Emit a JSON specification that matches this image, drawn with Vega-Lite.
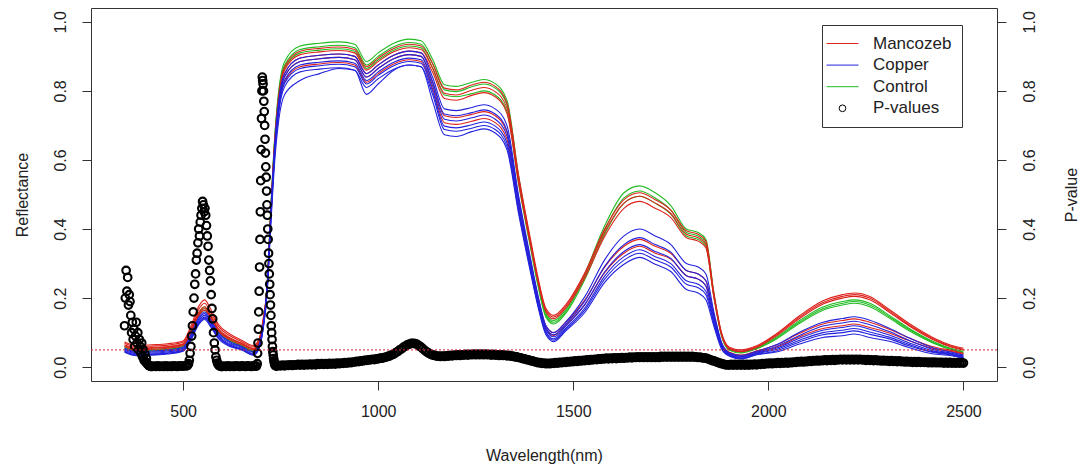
{
"$schema": "https://vega.github.io/schema/vega-lite/v6.json",
"width": 906, "height": 373,
"autosize": "none",
"padding": {"left": 91, "top": 8, "right": 84, "bottom": 87},
"background": "white",
"config": {
  "view": {"stroke": "#333", "strokeWidth": 1},
  "font": "Liberation Sans",
  "axis": {"grid": false, "domain": false, "tickSize": 9, "tickColor": "#333", "labelFontSize": 16, "labelColor": "#222", "titleFontSize": 16, "titleFontWeight": "normal", "titleColor": "#222", "labelFlush": false, "labelOverlap": false}
},
"datasets": {
"spectra": [
{"w":350,"m1":0.073,"m2":0.069,"m3":0.065,"m4":0.063,"m5":0.060,"c1":0.055,"c2":0.052,"c3":0.049,"c4":0.046,"c5":0.045,"c6":0.043,"k1":0.060,"k2":0.057,"k3":0.055},
{"w":380,"m1":0.063,"m2":0.059,"m3":0.055,"m4":0.053,"m5":0.050,"c1":0.045,"c2":0.042,"c3":0.039,"c4":0.036,"c5":0.035,"c6":0.033,"k1":0.050,"k2":0.047,"k3":0.045},
{"w":420,"m1":0.065,"m2":0.061,"m3":0.057,"m4":0.055,"m5":0.052,"c1":0.047,"c2":0.044,"c3":0.041,"c4":0.038,"c5":0.037,"c6":0.035,"k1":0.052,"k2":0.049,"k3":0.047},
{"w":460,"m1":0.068,"m2":0.064,"m3":0.060,"m4":0.058,"m5":0.055,"c1":0.050,"c2":0.047,"c3":0.044,"c4":0.041,"c5":0.040,"c6":0.038,"k1":0.055,"k2":0.052,"k3":0.050},
{"w":500,"m1":0.076,"m2":0.072,"m3":0.068,"m4":0.066,"m5":0.063,"c1":0.058,"c2":0.055,"c3":0.052,"c4":0.049,"c5":0.048,"c6":0.046,"k1":0.063,"k2":0.060,"k3":0.058},
{"w":520,"m1":0.119,"m2":0.112,"m3":0.106,"m4":0.103,"m5":0.099,"c1":0.094,"c2":0.090,"c3":0.086,"c4":0.083,"c5":0.081,"c6":0.078,"k1":0.103,"k2":0.099,"k3":0.096},
{"w":540,"m1":0.176,"m2":0.167,"m3":0.158,"m4":0.153,"m5":0.149,"c1":0.144,"c2":0.139,"c3":0.134,"c4":0.129,"c5":0.127,"c6":0.123,"k1":0.157,"k2":0.152,"k3":0.148},
{"w":555,"m1":0.195,"m2":0.185,"m3":0.175,"m4":0.170,"m5":0.165,"c1":0.160,"c2":0.155,"c3":0.150,"c4":0.145,"c5":0.142,"c6":0.138,"k1":0.175,"k2":0.170,"k3":0.165},
{"w":570,"m1":0.170,"m2":0.161,"m3":0.152,"m4":0.148,"m5":0.143,"c1":0.138,"c2":0.133,"c3":0.129,"c4":0.124,"c5":0.122,"c6":0.118,"k1":0.151,"k2":0.146,"k3":0.142},
{"w":590,"m1":0.125,"m2":0.119,"m3":0.112,"m4":0.108,"m5":0.105,"c1":0.100,"c2":0.096,"c3":0.092,"c4":0.088,"c5":0.086,"c6":0.083,"k1":0.109,"k2":0.105,"k3":0.102},
{"w":620,"m1":0.096,"m2":0.091,"m3":0.085,"m4":0.083,"m5":0.079,"c1":0.074,"c2":0.071,"c3":0.067,"c4":0.064,"c5":0.062,"c6":0.060,"k1":0.081,"k2":0.078,"k3":0.075},
{"w":650,"m1":0.078,"m2":0.074,"m3":0.070,"m4":0.068,"m5":0.065,"c1":0.060,"c2":0.058,"c3":0.055,"c4":0.052,"c5":0.051,"c6":0.050,"k1":0.065,"k2":0.062,"k3":0.060},
{"w":680,"m1":0.063,"m2":0.059,"m3":0.055,"m4":0.053,"m5":0.050,"c1":0.045,"c2":0.043,"c3":0.040,"c4":0.037,"c5":0.036,"c6":0.035,"k1":0.050,"k2":0.047,"k3":0.045},
{"w":695,"m1":0.083,"m2":0.079,"m3":0.075,"m4":0.073,"m5":0.070,"c1":0.065,"c2":0.063,"c3":0.060,"c4":0.057,"c5":0.056,"c6":0.055,"k1":0.070,"k2":0.067,"k3":0.065},
{"w":705,"m1":0.138,"m2":0.134,"m3":0.130,"m4":0.128,"m5":0.125,"c1":0.120,"c2":0.118,"c3":0.115,"c4":0.112,"c5":0.111,"c6":0.110,"k1":0.125,"k2":0.122,"k3":0.120},
{"w":715,"m1":0.229,"m2":0.226,"m3":0.224,"m4":0.221,"m5":0.218,"c1":0.224,"c2":0.221,"c3":0.219,"c4":0.216,"c5":0.214,"c6":0.208,"k1":0.233,"k2":0.230,"k3":0.228},
{"w":725,"m1":0.458,"m2":0.453,"m3":0.448,"m4":0.443,"m5":0.435,"c1":0.448,"c2":0.443,"c3":0.438,"c4":0.433,"c5":0.428,"c6":0.415,"k1":0.465,"k2":0.460,"k3":0.455},
{"w":735,"m1":0.659,"m2":0.652,"m3":0.644,"m4":0.637,"m5":0.626,"c1":0.644,"c2":0.637,"c3":0.630,"c4":0.623,"c5":0.616,"c6":0.598,"k1":0.670,"k2":0.662,"k3":0.655},
{"w":745,"m1":0.787,"m2":0.778,"m3":0.770,"m4":0.761,"m5":0.748,"c1":0.770,"c2":0.761,"c3":0.753,"c4":0.744,"c5":0.735,"c6":0.714,"k1":0.800,"k2":0.791,"k3":0.783},
{"w":760,"m1":0.869,"m2":0.860,"m3":0.850,"m4":0.841,"m5":0.827,"c1":0.850,"c2":0.841,"c3":0.831,"c4":0.822,"c5":0.812,"c6":0.789,"k1":0.884,"k2":0.874,"k3":0.865},
{"w":800,"m1":0.915,"m2":0.905,"m3":0.895,"m4":0.885,"m5":0.870,"c1":0.895,"c2":0.885,"c3":0.875,"c4":0.865,"c5":0.855,"c6":0.830,"k1":0.930,"k2":0.920,"k3":0.910},
{"w":850,"m1":0.923,"m2":0.913,"m3":0.903,"m4":0.893,"m5":0.878,"c1":0.903,"c2":0.893,"c3":0.883,"c4":0.873,"c5":0.863,"c6":0.850,"k1":0.938,"k2":0.928,"k3":0.918},
{"w":900,"m1":0.927,"m2":0.917,"m3":0.907,"m4":0.897,"m5":0.882,"c1":0.907,"c2":0.897,"c3":0.887,"c4":0.877,"c5":0.867,"c6":0.865,"k1":0.942,"k2":0.932,"k3":0.922},
{"w":940,"m1":0.920,"m2":0.910,"m3":0.900,"m4":0.890,"m5":0.875,"c1":0.900,"c2":0.890,"c3":0.880,"c4":0.870,"c5":0.860,"c6":0.860,"k1":0.935,"k2":0.925,"k3":0.915},
{"w":970,"m1":0.870,"m2":0.860,"m3":0.850,"m4":0.840,"m5":0.825,"c1":0.850,"c2":0.840,"c3":0.830,"c4":0.820,"c5":0.810,"c6":0.790,"k1":0.885,"k2":0.875,"k3":0.865},
{"w":1000,"m1":0.895,"m2":0.885,"m3":0.875,"m4":0.865,"m5":0.850,"c1":0.875,"c2":0.865,"c3":0.855,"c4":0.845,"c5":0.835,"c6":0.820,"k1":0.910,"k2":0.900,"k3":0.890},
{"w":1040,"m1":0.923,"m2":0.913,"m3":0.903,"m4":0.893,"m5":0.878,"c1":0.903,"c2":0.893,"c3":0.883,"c4":0.873,"c5":0.863,"c6":0.860,"k1":0.938,"k2":0.928,"k3":0.918},
{"w":1080,"m1":0.935,"m2":0.925,"m3":0.915,"m4":0.905,"m5":0.890,"c1":0.915,"c2":0.905,"c3":0.895,"c4":0.885,"c5":0.875,"c6":0.875,"k1":0.950,"k2":0.940,"k3":0.930},
{"w":1110,"m1":0.930,"m2":0.920,"m3":0.910,"m4":0.900,"m5":0.885,"c1":0.910,"c2":0.900,"c3":0.890,"c4":0.880,"c5":0.870,"c6":0.870,"k1":0.945,"k2":0.935,"k3":0.925},
{"w":1140,"m1":0.878,"m2":0.865,"m3":0.853,"m4":0.823,"m5":0.805,"c1":0.838,"c2":0.825,"c3":0.813,"c4":0.798,"c5":0.788,"c6":0.768,"k1":0.890,"k2":0.878,"k3":0.865},
{"w":1170,"m1":0.808,"m2":0.793,"m3":0.778,"m4":0.728,"m5":0.708,"c1":0.748,"c2":0.733,"c3":0.718,"c4":0.698,"c5":0.688,"c6":0.673,"k1":0.818,"k2":0.803,"k3":0.788},
{"w":1200,"m1":0.803,"m2":0.788,"m3":0.773,"m4":0.723,"m5":0.703,"c1":0.743,"c2":0.728,"c3":0.713,"c4":0.693,"c5":0.683,"c6":0.668,"k1":0.813,"k2":0.798,"k3":0.783},
{"w":1240,"m1":0.817,"m2":0.802,"m3":0.787,"m4":0.732,"m5":0.712,"c1":0.752,"c2":0.737,"c3":0.722,"c4":0.702,"c5":0.692,"c6":0.682,"k1":0.825,"k2":0.812,"k3":0.792},
{"w":1270,"m1":0.825,"m2":0.810,"m3":0.795,"m4":0.740,"m5":0.720,"c1":0.760,"c2":0.745,"c3":0.730,"c4":0.710,"c5":0.700,"c6":0.690,"k1":0.833,"k2":0.820,"k3":0.800},
{"w":1300,"m1":0.813,"m2":0.798,"m3":0.783,"m4":0.728,"m5":0.708,"c1":0.748,"c2":0.733,"c3":0.718,"c4":0.698,"c5":0.688,"c6":0.678,"k1":0.821,"k2":0.808,"k3":0.788},
{"w":1330,"m1":0.765,"m2":0.750,"m3":0.735,"m4":0.680,"m5":0.660,"c1":0.700,"c2":0.685,"c3":0.670,"c4":0.650,"c5":0.640,"c6":0.630,"k1":0.773,"k2":0.760,"k3":0.740},
{"w":1360,"m1":0.555,"m2":0.544,"m3":0.533,"m4":0.484,"m5":0.469,"c1":0.496,"c2":0.485,"c3":0.473,"c4":0.459,"c5":0.451,"c6":0.444,"k1":0.554,"k2":0.544,"k3":0.530},
{"w":1390,"m1":0.373,"m2":0.364,"m3":0.356,"m4":0.311,"m5":0.299,"c1":0.318,"c2":0.309,"c3":0.300,"c4":0.289,"c5":0.283,"c6":0.277,"k1":0.365,"k2":0.358,"k3":0.348},
{"w":1410,"m1":0.258,"m2":0.251,"m3":0.245,"m4":0.202,"m5":0.192,"c1":0.206,"c2":0.198,"c3":0.191,"c4":0.182,"c5":0.178,"c6":0.173,"k1":0.247,"k2":0.240,"k3":0.233},
{"w":1430,"m1":0.170,"m2":0.165,"m3":0.160,"m4":0.120,"m5":0.112,"c1":0.120,"c2":0.114,"c3":0.108,"c4":0.102,"c5":0.098,"c6":0.094,"k1":0.155,"k2":0.150,"k3":0.145},
{"w":1450,"m1":0.150,"m2":0.145,"m3":0.140,"m4":0.100,"m5":0.092,"c1":0.100,"c2":0.094,"c3":0.088,"c4":0.082,"c5":0.078,"c6":0.074,"k1":0.135,"k2":0.130,"k3":0.125},
{"w":1480,"m1":0.180,"m2":0.175,"m3":0.170,"m4":0.130,"m5":0.122,"c1":0.130,"c2":0.124,"c3":0.118,"c4":0.112,"c5":0.108,"c6":0.104,"k1":0.165,"k2":0.160,"k3":0.155},
{"w":1530,"m1":0.274,"m2":0.268,"m3":0.259,"m4":0.195,"m5":0.182,"c1":0.205,"c2":0.192,"c3":0.182,"c4":0.172,"c5":0.166,"c6":0.159,"k1":0.272,"k2":0.263,"k3":0.255},
{"w":1580,"m1":0.399,"m2":0.390,"m3":0.378,"m4":0.289,"m5":0.273,"c1":0.310,"c2":0.291,"c3":0.275,"c4":0.263,"c5":0.254,"c6":0.245,"k1":0.408,"k2":0.396,"k3":0.384},
{"w":1630,"m1":0.485,"m2":0.475,"m3":0.460,"m4":0.350,"m5":0.330,"c1":0.380,"c2":0.355,"c3":0.335,"c4":0.320,"c5":0.310,"c6":0.298,"k1":0.505,"k2":0.490,"k3":0.475},
{"w":1670,"m1":0.505,"m2":0.495,"m3":0.480,"m4":0.370,"m5":0.350,"c1":0.400,"c2":0.375,"c3":0.355,"c4":0.340,"c5":0.330,"c6":0.318,"k1":0.525,"k2":0.510,"k3":0.495},
{"w":1710,"m1":0.485,"m2":0.475,"m3":0.460,"m4":0.350,"m5":0.330,"c1":0.380,"c2":0.355,"c3":0.335,"c4":0.320,"c5":0.310,"c6":0.298,"k1":0.505,"k2":0.490,"k3":0.475},
{"w":1750,"m1":0.455,"m2":0.445,"m3":0.433,"m4":0.330,"m5":0.313,"c1":0.355,"c2":0.333,"c3":0.315,"c4":0.300,"c5":0.290,"c6":0.277,"k1":0.468,"k2":0.455,"k3":0.443},
{"w":1790,"m1":0.395,"m2":0.385,"m3":0.375,"m4":0.280,"m5":0.265,"c1":0.300,"c2":0.280,"c3":0.265,"c4":0.250,"c5":0.240,"c6":0.225,"k1":0.400,"k2":0.390,"k3":0.380},
{"w":1820,"m1":0.385,"m2":0.375,"m3":0.365,"m4":0.270,"m5":0.255,"c1":0.290,"c2":0.270,"c3":0.255,"c4":0.240,"c5":0.230,"c6":0.215,"k1":0.390,"k2":0.380,"k3":0.370},
{"w":1840,"m1":0.365,"m2":0.355,"m3":0.345,"m4":0.250,"m5":0.235,"c1":0.270,"c2":0.250,"c3":0.235,"c4":0.220,"c5":0.210,"c6":0.195,"k1":0.370,"k2":0.360,"k3":0.350},
{"w":1860,"m1":0.218,"m2":0.211,"m3":0.205,"m4":0.153,"m5":0.144,"c1":0.162,"c2":0.151,"c3":0.142,"c4":0.134,"c5":0.128,"c6":0.120,"k1":0.218,"k2":0.212,"k3":0.206},
{"w":1880,"m1":0.100,"m2":0.096,"m3":0.093,"m4":0.070,"m5":0.065,"c1":0.072,"c2":0.067,"c3":0.063,"c4":0.059,"c5":0.056,"c6":0.053,"k1":0.097,"k2":0.094,"k3":0.090},
{"w":1900,"m1":0.058,"m2":0.055,"m3":0.053,"m4":0.043,"m5":0.040,"c1":0.042,"c2":0.039,"c3":0.037,"c4":0.035,"c5":0.033,"c6":0.032,"k1":0.053,"k2":0.051,"k3":0.049},
{"w":1930,"m1":0.050,"m2":0.047,"m3":0.045,"m4":0.035,"m5":0.032,"c1":0.034,"c2":0.031,"c3":0.029,"c4":0.027,"c5":0.025,"c6":0.024,"k1":0.045,"k2":0.043,"k3":0.041},
{"w":1970,"m1":0.062,"m2":0.059,"m3":0.057,"m4":0.047,"m5":0.044,"c1":0.046,"c2":0.043,"c3":0.041,"c4":0.039,"c5":0.037,"c6":0.036,"k1":0.057,"k2":0.055,"k3":0.053},
{"w":2020,"m1":0.096,"m2":0.093,"m3":0.090,"m4":0.064,"m5":0.058,"c1":0.065,"c2":0.060,"c3":0.055,"c4":0.051,"c5":0.047,"c6":0.044,"k1":0.087,"k2":0.084,"k3":0.081},
{"w":2080,"m1":0.149,"m2":0.145,"m3":0.141,"m4":0.098,"m5":0.088,"c1":0.101,"c2":0.092,"c3":0.084,"c4":0.078,"c5":0.073,"c6":0.067,"k1":0.135,"k2":0.131,"k3":0.127},
{"w":2140,"m1":0.192,"m2":0.187,"m3":0.183,"m4":0.125,"m5":0.112,"c1":0.130,"c2":0.119,"c3":0.107,"c4":0.100,"c5":0.094,"c6":0.086,"k1":0.174,"k2":0.169,"k3":0.165},
{"w":2190,"m1":0.210,"m2":0.205,"m3":0.200,"m4":0.135,"m5":0.120,"c1":0.141,"c2":0.128,"c3":0.115,"c4":0.107,"c5":0.100,"c6":0.091,"k1":0.190,"k2":0.185,"k3":0.180},
{"w":2220,"m1":0.215,"m2":0.210,"m3":0.205,"m4":0.140,"m5":0.125,"c1":0.146,"c2":0.133,"c3":0.120,"c4":0.112,"c5":0.105,"c6":0.096,"k1":0.195,"k2":0.190,"k3":0.185},
{"w":2260,"m1":0.205,"m2":0.200,"m3":0.195,"m4":0.130,"m5":0.115,"c1":0.136,"c2":0.123,"c3":0.110,"c4":0.102,"c5":0.095,"c6":0.086,"k1":0.185,"k2":0.180,"k3":0.175},
{"w":2310,"m1":0.167,"m2":0.163,"m3":0.159,"m4":0.110,"m5":0.099,"c1":0.113,"c2":0.103,"c3":0.093,"c4":0.087,"c5":0.082,"c6":0.075,"k1":0.150,"k2":0.146,"k3":0.142},
{"w":2360,"m1":0.127,"m2":0.123,"m3":0.120,"m4":0.085,"m5":0.077,"c1":0.085,"c2":0.078,"c3":0.071,"c4":0.066,"c5":0.062,"c6":0.057,"k1":0.113,"k2":0.110,"k3":0.106},
{"w":2420,"m1":0.087,"m2":0.084,"m3":0.081,"m4":0.060,"m5":0.055,"c1":0.057,"c2":0.052,"c3":0.048,"c4":0.045,"c5":0.043,"c6":0.039,"k1":0.076,"k2":0.073,"k3":0.071},
{"w":2470,"m1":0.063,"m2":0.060,"m3":0.058,"m4":0.048,"m5":0.045,"c1":0.043,"c2":0.040,"c3":0.038,"c4":0.036,"c5":0.035,"c6":0.033,"k1":0.054,"k2":0.052,"k3":0.050},
{"w":2500,"m1":0.055,"m2":0.052,"m3":0.050,"m4":0.040,"m5":0.037,"c1":0.035,"c2":0.032,"c3":0.030,"c4":0.028,"c5":0.027,"c6":0.025,"k1":0.046,"k2":0.044,"k3":0.042}
],
"pvals": [
{"w":350,"p":0.12},{"w":352,"p":0.20},{"w":354,"p":0.28},{"w":356,"p":0.22},{"w":358,"p":0.26},{"w":360,"p":0.18},{"w":362,"p":0.21},{"w":364,"p":0.19},{"w":366,"p":0.15},{"w":368,"p":0.10},{"w":370,"p":0.13},{"w":372,"p":0.08},{"w":374,"p":0.11},{"w":376,"p":0.06},{"w":378,"p":0.09},{"w":380,"p":0.13},{"w":382,"p":0.07},{"w":384,"p":0.10},{"w":386,"p":0.05},{"w":388,"p":0.08},{"w":390,"p":0.06},{"w":392,"p":0.04},{"w":394,"p":0.07},{"w":396,"p":0.03},{"w":398,"p":0.05},{"w":400,"p":0.02},{"w":402,"p":0.04},{"w":404,"p":0.015},{"w":406,"p":0.025},{"w":408,"p":0.01},{"w":410,"p":0.008},{"w":412,"p":0.005},{"w":414,"p":0.004},{"w":416,"p":0.003},{"w":418,"p":0.002},{"w":420,"p":0.002},
{"w":425,"p":0.003},{"w":430,"p":0.002},{"w":435,"p":0.004},{"w":440,"p":0.002},{"w":445,"p":0.003},{"w":450,"p":0.002},{"w":455,"p":0.004},{"w":460,"p":0.002},{"w":465,"p":0.003},{"w":470,"p":0.002},{"w":475,"p":0.004},{"w":480,"p":0.003},{"w":485,"p":0.002},{"w":490,"p":0.004},{"w":495,"p":0.003},{"w":500,"p":0.003},{"w":505,"p":0.004},
{"w":510,"p":0.004},{"w":512,"p":0.006},{"w":514,"p":0.01},{"w":516,"p":0.02},{"w":518,"p":0.04},{"w":520,"p":0.06},{"w":522,"p":0.09},{"w":524,"p":0.12},{"w":526,"p":0.16},{"w":528,"p":0.20},{"w":530,"p":0.24},{"w":532,"p":0.27},{"w":534,"p":0.31},{"w":536,"p":0.33},{"w":538,"p":0.36},{"w":540,"p":0.40},{"w":542,"p":0.38},{"w":544,"p":0.42},{"w":546,"p":0.44},{"w":548,"p":0.46},{"w":550,"p":0.48},{"w":552,"p":0.47},{"w":554,"p":0.45},{"w":556,"p":0.46},{"w":558,"p":0.44},{"w":560,"p":0.41},{"w":562,"p":0.38},{"w":564,"p":0.35},{"w":566,"p":0.31},{"w":568,"p":0.28},{"w":570,"p":0.25},{"w":572,"p":0.21},{"w":574,"p":0.17},{"w":576,"p":0.14},{"w":578,"p":0.10},{"w":580,"p":0.07},{"w":582,"p":0.05},{"w":584,"p":0.03},{"w":586,"p":0.02},{"w":588,"p":0.012},{"w":590,"p":0.008},{"w":592,"p":0.005},{"w":594,"p":0.004},{"w":596,"p":0.003},{"w":598,"p":0.002},{"w":600,"p":0.002},
{"w":605,"p":0.003},{"w":610,"p":0.002},{"w":615,"p":0.004},{"w":620,"p":0.002},{"w":625,"p":0.003},{"w":630,"p":0.002},{"w":635,"p":0.004},{"w":640,"p":0.003},{"w":645,"p":0.002},{"w":650,"p":0.004},{"w":655,"p":0.003},{"w":660,"p":0.002},{"w":665,"p":0.004},{"w":670,"p":0.003},{"w":675,"p":0.002},{"w":680,"p":0.004},{"w":685,"p":0.003},{"w":688,"p":0.003},
{"w":690,"p":0.01},{"w":691,"p":0.04},{"w":692,"p":0.07},{"w":693,"p":0.11},{"w":694,"p":0.16},{"w":695,"p":0.22},{"w":696,"p":0.29},{"w":697,"p":0.37},{"w":698,"p":0.45},{"w":699,"p":0.54},{"w":700,"p":0.63},{"w":701,"p":0.72},{"w":702,"p":0.80},{"w":703,"p":0.84},{"w":704,"p":0.83},{"w":705,"p":0.82},{"w":706,"p":0.80},{"w":707,"p":0.77},{"w":708,"p":0.74},{"w":709,"p":0.70},{"w":710,"p":0.66},{"w":711,"p":0.62},{"w":712,"p":0.58},{"w":713,"p":0.55},{"w":714,"p":0.51},{"w":715,"p":0.47},{"w":716,"p":0.44},{"w":717,"p":0.40},{"w":718,"p":0.37},{"w":719,"p":0.33},{"w":720,"p":0.30},{"w":721,"p":0.27},{"w":722,"p":0.24},{"w":723,"p":0.21},{"w":724,"p":0.18},{"w":725,"p":0.15},{"w":726,"p":0.12},{"w":727,"p":0.10},{"w":728,"p":0.08},{"w":729,"p":0.06},{"w":730,"p":0.045},{"w":731,"p":0.035},{"w":732,"p":0.025},{"w":733,"p":0.018},{"w":734,"p":0.012},{"w":735,"p":0.008},{"w":736,"p":0.005},{"w":738,"p":0.004},
{"w":740,"p":0.003},{"w":745,"p":0.005},{"w":750,"p":0.004},{"w":755,"p":0.006},{"w":760,"p":0.004},{"w":765,"p":0.006},{"w":770,"p":0.005},{"w":775,"p":0.007},{"w":780,"p":0.005},{"w":785,"p":0.007},{"w":790,"p":0.006},{"w":795,"p":0.008},{"w":800,"p":0.006},{"w":805,"p":0.008},{"w":810,"p":0.006},{"w":815,"p":0.008},{"w":820,"p":0.007},{"w":825,"p":0.009},{"w":830,"p":0.007},{"w":835,"p":0.009},{"w":840,"p":0.007},{"w":845,"p":0.010},{"w":850,"p":0.008},{"w":855,"p":0.010},{"w":860,"p":0.008},{"w":865,"p":0.010},{"w":870,"p":0.008},{"w":875,"p":0.011},{"w":880,"p":0.009},{"w":885,"p":0.011},{"w":890,"p":0.009},{"w":895,"p":0.012},{"w":900,"p":0.010},{"w":905,"p":0.012},{"w":910,"p":0.011},{"w":915,"p":0.013},{"w":920,"p":0.012},{"w":925,"p":0.014},{"w":930,"p":0.013},{"w":935,"p":0.015},{"w":940,"p":0.015},{"w":945,"p":0.017},{"w":950,"p":0.016},{"w":955,"p":0.018},{"w":960,"p":0.018},{"w":965,"p":0.020},{"w":970,"p":0.020},{"w":975,"p":0.021},{"w":980,"p":0.021},{"w":985,"p":0.023},{"w":990,"p":0.022},{"w":995,"p":0.024},{"w":1000,"p":0.024},{"w":1005,"p":0.026},{"w":1010,"p":0.026},{"w":1015,"p":0.028},{"w":1020,"p":0.029},{"w":1025,"p":0.031},{"w":1030,"p":0.033},{"w":1035,"p":0.036},{"w":1040,"p":0.038},{"w":1045,"p":0.042},{"w":1050,"p":0.045},{"w":1055,"p":0.050},{"w":1060,"p":0.053},{"w":1065,"p":0.058},{"w":1070,"p":0.061},{"w":1075,"p":0.065},{"w":1080,"p":0.067},{"w":1085,"p":0.069},{"w":1090,"p":0.069},{"w":1095,"p":0.068},{"w":1100,"p":0.066},{"w":1105,"p":0.062},{"w":1110,"p":0.058},{"w":1115,"p":0.053},{"w":1120,"p":0.048},{"w":1125,"p":0.044},{"w":1130,"p":0.040},{"w":1135,"p":0.037},{"w":1140,"p":0.035},{"w":1145,"p":0.034},{"w":1150,"p":0.032},{"w":1155,"p":0.032},{"w":1160,"p":0.031},{"w":1165,"p":0.032},{"w":1170,"p":0.031},{"w":1175,"p":0.033},{"w":1180,"p":0.032},{"w":1185,"p":0.034},{"w":1190,"p":0.033},{"w":1195,"p":0.035},{"w":1200,"p":0.034},{"w":1205,"p":0.036},{"w":1210,"p":0.034},{"w":1215,"p":0.036},{"w":1220,"p":0.035},{"w":1225,"p":0.037},{"w":1230,"p":0.035},{"w":1235,"p":0.037},{"w":1240,"p":0.036},{"w":1245,"p":0.038},{"w":1250,"p":0.036},{"w":1255,"p":0.038},{"w":1260,"p":0.036},{"w":1265,"p":0.038},{"w":1270,"p":0.036},{"w":1275,"p":0.038},{"w":1280,"p":0.036},{"w":1285,"p":0.037},{"w":1290,"p":0.035},{"w":1295,"p":0.037},{"w":1300,"p":0.035},{"w":1305,"p":0.036},{"w":1310,"p":0.034},{"w":1315,"p":0.036},{"w":1320,"p":0.034},{"w":1325,"p":0.035},{"w":1330,"p":0.033},{"w":1335,"p":0.034},{"w":1340,"p":0.032},{"w":1345,"p":0.032},{"w":1350,"p":0.030},{"w":1355,"p":0.030},{"w":1360,"p":0.028},{"w":1365,"p":0.027},{"w":1370,"p":0.025},{"w":1375,"p":0.024},{"w":1380,"p":0.022},{"w":1385,"p":0.021},{"w":1390,"p":0.019},{"w":1395,"p":0.018},{"w":1400,"p":0.016},{"w":1405,"p":0.015},{"w":1410,"p":0.013},{"w":1415,"p":0.013},{"w":1420,"p":0.011},{"w":1425,"p":0.012},{"w":1430,"p":0.010},{"w":1435,"p":0.011},{"w":1440,"p":0.010},{"w":1445,"p":0.012},{"w":1450,"p":0.011},{"w":1455,"p":0.013},{"w":1460,"p":0.012},{"w":1465,"p":0.014},{"w":1470,"p":0.013},{"w":1475,"p":0.015},{"w":1480,"p":0.014},{"w":1485,"p":0.016},{"w":1490,"p":0.015},{"w":1495,"p":0.017},{"w":1500,"p":0.016},{"w":1505,"p":0.018},{"w":1510,"p":0.017},{"w":1515,"p":0.019},{"w":1520,"p":0.018},{"w":1525,"p":0.020},{"w":1530,"p":0.019},{"w":1535,"p":0.021},{"w":1540,"p":0.020},{"w":1545,"p":0.022},{"w":1550,"p":0.021},{"w":1555,"p":0.023},{"w":1560,"p":0.022},{"w":1565,"p":0.024},{"w":1570,"p":0.023},{"w":1575,"p":0.025},{"w":1580,"p":0.024},{"w":1585,"p":0.026},{"w":1590,"p":0.024},{"w":1595,"p":0.026},{"w":1600,"p":0.025},{"w":1605,"p":0.027},{"w":1610,"p":0.025},{"w":1615,"p":0.027},{"w":1620,"p":0.026},{"w":1625,"p":0.028},{"w":1630,"p":0.026},{"w":1635,"p":0.028},{"w":1640,"p":0.027},{"w":1645,"p":0.029},{"w":1650,"p":0.027},{"w":1655,"p":0.029},{"w":1660,"p":0.028},{"w":1665,"p":0.030},{"w":1670,"p":0.028},{"w":1675,"p":0.030},{"w":1680,"p":0.028},{"w":1685,"p":0.030},{"w":1690,"p":0.028},{"w":1695,"p":0.030},{"w":1700,"p":0.028},{"w":1705,"p":0.030},{"w":1710,"p":0.028},{"w":1715,"p":0.030},{"w":1720,"p":0.028},{"w":1725,"p":0.031},{"w":1730,"p":0.029},{"w":1735,"p":0.031},{"w":1740,"p":0.029},{"w":1745,"p":0.031},{"w":1750,"p":0.029},{"w":1755,"p":0.031},{"w":1760,"p":0.029},{"w":1765,"p":0.031},{"w":1770,"p":0.029},{"w":1775,"p":0.031},{"w":1780,"p":0.029},{"w":1785,"p":0.031},{"w":1790,"p":0.029},{"w":1795,"p":0.031},{"w":1800,"p":0.029},{"w":1805,"p":0.031},{"w":1810,"p":0.029},{"w":1815,"p":0.030},{"w":1820,"p":0.028},{"w":1825,"p":0.029},{"w":1830,"p":0.027},{"w":1835,"p":0.027},{"w":1840,"p":0.026},{"w":1845,"p":0.024},{"w":1850,"p":0.022},{"w":1855,"p":0.020},{"w":1860,"p":0.018},{"w":1865,"p":0.016},{"w":1870,"p":0.014},{"w":1875,"p":0.012},{"w":1880,"p":0.010},{"w":1885,"p":0.009},{"w":1890,"p":0.007},{"w":1895,"p":0.007},{"w":1900,"p":0.006},{"w":1905,"p":0.008},{"w":1910,"p":0.006},{"w":1915,"p":0.008},{"w":1920,"p":0.006},{"w":1925,"p":0.008},{"w":1930,"p":0.006},{"w":1935,"p":0.008},{"w":1940,"p":0.006},{"w":1945,"p":0.008},{"w":1950,"p":0.006},{"w":1955,"p":0.008},{"w":1960,"p":0.007},{"w":1965,"p":0.009},{"w":1970,"p":0.007},{"w":1975,"p":0.009},{"w":1980,"p":0.008},{"w":1985,"p":0.010},{"w":1990,"p":0.009},{"w":1995,"p":0.011},{"w":2000,"p":0.010},{"w":2005,"p":0.012},{"w":2010,"p":0.010},{"w":2015,"p":0.012},{"w":2020,"p":0.011},{"w":2025,"p":0.013},{"w":2030,"p":0.011},{"w":2035,"p":0.013},{"w":2040,"p":0.012},{"w":2045,"p":0.014},{"w":2050,"p":0.012},{"w":2055,"p":0.014},{"w":2060,"p":0.013},{"w":2065,"p":0.015},{"w":2070,"p":0.014},{"w":2075,"p":0.016},{"w":2080,"p":0.015},{"w":2085,"p":0.017},{"w":2090,"p":0.015},{"w":2095,"p":0.017},{"w":2100,"p":0.016},{"w":2105,"p":0.018},{"w":2110,"p":0.017},{"w":2115,"p":0.019},{"w":2120,"p":0.018},{"w":2125,"p":0.020},{"w":2130,"p":0.018},{"w":2135,"p":0.020},{"w":2140,"p":0.019},{"w":2145,"p":0.021},{"w":2150,"p":0.019},{"w":2155,"p":0.021},{"w":2160,"p":0.020},{"w":2165,"p":0.022},{"w":2170,"p":0.020},{"w":2175,"p":0.022},{"w":2180,"p":0.021},{"w":2185,"p":0.023},{"w":2190,"p":0.021},{"w":2195,"p":0.023},{"w":2200,"p":0.021},{"w":2205,"p":0.023},{"w":2210,"p":0.021},{"w":2215,"p":0.023},{"w":2220,"p":0.021},{"w":2225,"p":0.023},{"w":2230,"p":0.021},{"w":2235,"p":0.023},{"w":2240,"p":0.021},{"w":2245,"p":0.022},{"w":2250,"p":0.020},{"w":2255,"p":0.022},{"w":2260,"p":0.020},{"w":2265,"p":0.021},{"w":2270,"p":0.019},{"w":2275,"p":0.021},{"w":2280,"p":0.019},{"w":2285,"p":0.020},{"w":2290,"p":0.018},{"w":2295,"p":0.020},{"w":2300,"p":0.018},{"w":2305,"p":0.019},{"w":2310,"p":0.017},{"w":2315,"p":0.019},{"w":2320,"p":0.017},{"w":2325,"p":0.018},{"w":2330,"p":0.016},{"w":2335,"p":0.018},{"w":2340,"p":0.016},{"w":2345,"p":0.017},{"w":2350,"p":0.015},{"w":2355,"p":0.017},{"w":2360,"p":0.015},{"w":2365,"p":0.016},{"w":2370,"p":0.014},{"w":2375,"p":0.016},{"w":2380,"p":0.014},{"w":2385,"p":0.016},{"w":2390,"p":0.014},{"w":2395,"p":0.015},{"w":2400,"p":0.014},{"w":2405,"p":0.015},{"w":2410,"p":0.013},{"w":2415,"p":0.015},{"w":2420,"p":0.013},{"w":2425,"p":0.015},{"w":2430,"p":0.013},{"w":2435,"p":0.014},{"w":2440,"p":0.013},{"w":2445,"p":0.014},{"w":2450,"p":0.012},{"w":2455,"p":0.014},{"w":2460,"p":0.012},{"w":2465,"p":0.014},{"w":2470,"p":0.012},{"w":2475,"p":0.013},{"w":2480,"p":0.012},{"w":2485,"p":0.013},{"w":2490,"p":0.012},{"w":2495,"p":0.013},{"w":2500,"p":0.012}
]
},
"layer": [
  {
    "data": {"name": "spectra"},
    "encoding": {
      "x": {"field": "w", "type": "quantitative", "scale": {"domain": [264, 2586], "nice": false, "zero": false},
            "axis": {"values": [500, 1000, 1500, 2000, 2500], "format": "d", "labelPadding": 13, "title": "Wavelength(nm)", "titlePadding": 28}},
      "y": {"field": "refl", "type": "quantitative", "scale": {"domain": [-0.04, 1.04], "nice": false, "zero": false},
            "axis": {"orient": "left", "values": [0, 0.2, 0.4, 0.6, 0.8, 1.0], "format": ".1f", "labelAngle": 270, "labelAlign": "center", "labelBaseline": "bottom", "labelPadding": 14, "title": "Reflectance", "titlePadding": 22}},
      "detail": {"field": "curve", "type": "nominal"}
    },
    "layer": [
      {"transform": [{"fold": ["k1", "k2", "k3"], "as": ["curve", "refl"]}],
       "mark": {"type": "line", "strokeWidth": 1.1, "interpolate": "monotone"},
       "encoding": {"color": {"datum": "Control", "type": "nominal",
         "scale": {"domain": ["Mancozeb", "Copper", "Control", "P-values"], "range": ["#dd221c", "#2222dd", "#22bb22", "#000000"]},
         "legend": {"orient": "none", "legendX": 731, "legendY": 17, "title": null, "strokeColor": "#333", "padding": 10,
           "labelFontSize": 17, "labelColor": "#222", "rowPadding": 3.6, "symbolType": "M-3.2,0H3.2", "symbolSize": 100, "symbolStrokeWidth": 1, "symbolOffset": 2, "labelOffset": 22,
           "encode": {"symbols": {"update": {
             "shape": {"signal": "datum.value === 'P-values' ? 'circle' : 'M-3.2,0H3.2'"},
             "size": {"signal": "datum.value === 'P-values' ? 45 : 100"},
             "fill": {"value": "transparent"},
             "stroke": {"scale": "color", "field": "value"},
             "strokeWidth": {"value": 1}}}}}}}},
      {"transform": [{"fold": ["m1", "m2", "m3", "m4", "m5"], "as": ["curve", "refl"]}],
       "mark": {"type": "line", "strokeWidth": 1.1, "interpolate": "monotone"},
       "encoding": {"color": {"datum": "Mancozeb", "type": "nominal"}}},
      {"transform": [{"fold": ["c1", "c2", "c3", "c4", "c5", "c6"], "as": ["curve", "refl"]}],
       "mark": {"type": "line", "strokeWidth": 1.1, "interpolate": "monotone"},
       "encoding": {"color": {"datum": "Copper", "type": "nominal"}}}
    ]
  },
  {
    "layer": [
      {"data": {"name": "pvals"},
       "mark": {"type": "point", "shape": "circle", "filled": false, "size": 58, "strokeWidth": 2.1, "opacity": 1},
       "encoding": {
         "x": {"field": "w", "type": "quantitative", "scale": {"domain": [264, 2586], "nice": false, "zero": false},
               "axis": {"values": [500, 1000, 1500, 2000, 2500], "format": "d", "labelPadding": 13, "title": "Wavelength(nm)", "titlePadding": 28}},
         "y": {"field": "p", "type": "quantitative", "scale": {"domain": [-0.04, 1.04], "nice": false, "zero": false},
               "axis": {"orient": "right", "values": [0, 0.2, 0.4, 0.6, 0.8, 1.0], "format": ".1f", "labelAngle": 270, "labelAlign": "center", "labelBaseline": "top", "labelPadding": 15, "title": "P-value", "titleAngle": 270, "titlePadding": 42}},
         "color": {"datum": "P-values", "type": "nominal"}}},
      {"data": {"values": [{}]},
       "mark": {"type": "rule", "color": "#c8242a", "strokeDash": [2, 2], "strokeWidth": 1},
       "encoding": {"y": {"datum": 0.05, "type": "quantitative"}}}
    ]
  }
],
"resolve": {"scale": {"y": "independent"}}
}
